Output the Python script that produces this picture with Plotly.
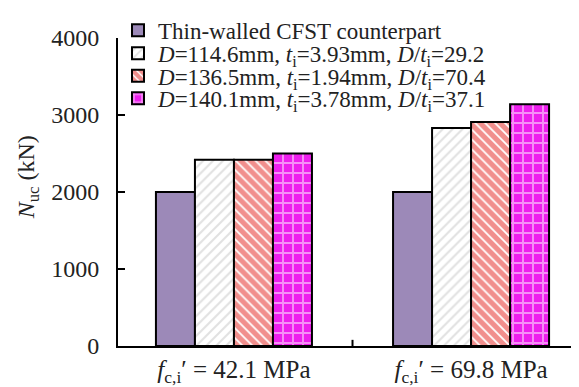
import plotly.graph_objects as go

groups = [1, 2]
group_labels = ["<i>f</i><sub>c,i</sub>′ = 42.1 MPa", "<i>f</i><sub>c,i</sub>′ = 69.8 MPa"]
series_names = [
    "Thin-walled CFST counterpart",
    "<i>D</i>=114.6mm, <i>t</i><sub>i</sub>=3.93mm, <i>D</i>/<i>t</i><sub>i</sub>=29.2",
    "<i>D</i>=136.5mm, <i>t</i><sub>i</sub>=1.94mm, <i>D</i>/<i>t</i><sub>i</sub>=70.4",
    "<i>D</i>=140.1mm, <i>t</i><sub>i</sub>=3.78mm, <i>D</i>/<i>t</i><sub>i</sub>=37.1",
]
thin_walled = [2000, 2000]
d114 = [2420, 2830]
d136 = [2420, 2910]
d140 = [2500, 3140]
y_ticks = [0, 1000, 2000, 3000, 4000]
y_title = "<i>N</i><sub>uc</sub> (kN)"

FONT = "Liberation Serif"
values = [thin_walled, d114, d136, d140]
patterns = [
    dict(shape=""),
    dict(shape="/", fgcolor="#c4c4c4", bgcolor="white", size=7, solidity=0.3),
    dict(shape="\\", fgcolor="#e31f1b", bgcolor="white", size=7, solidity=0.75),
    dict(shape="+", fgcolor="white", bgcolor="#ee1fee", size=10, solidity=0.35),
]
colors = ["#9c89b8", "white", "#e31f1b", "#ee1fee"]
legend_y = [1.025, 0.950, 0.877, 0.804]

fig = go.Figure()
for i, (name, vals) in enumerate(zip(series_names, values)):
    fig.add_trace(go.Bar(
        x=groups, y=vals, name=name, showlegend=True,
        marker=dict(color=colors[i], line=dict(color="black", width=2), pattern=patterns[i]),
        legend="legend" if i == 0 else f"legend{i+1}",
    ))

leg_common = dict(x=0.0, xanchor="left", yanchor="middle", bgcolor="rgba(0,0,0,0)",
                  font=dict(family=FONT, size=23, color="#222"), borderwidth=0)
layout_legends = {}
for i in range(4):
    key = "legend" if i == 0 else f"legend{i+1}"
    layout_legends[key] = dict(leg_common, y=legend_y[i])

fig.update_layout(
    width=571, height=379,
    margin=dict(l=110, r=1, t=22, b=41),
    plot_bgcolor="white", paper_bgcolor="white",
    barmode="group", bargap=0.342, bargroupgap=0,
    showlegend=True,
    font=dict(family=FONT, size=23, color="#222"),
    **layout_legends,
)
# small separator tick between the two groups on the x axis
fig.add_shape(type="line", xref="x", yref="paper", x0=1.5, x1=1.5, y0=0, y1=0.02,
              line=dict(color="black", width=2))
# y-axis title
fig.add_annotation(text=y_title, xref="paper", yref="paper", x=-0.196, y=0.547,
                   textangle=-90, showarrow=False, xanchor="center", yanchor="middle",
                   font=dict(family=FONT, size=24, color="#222"))
fig.update_xaxes(
    range=[0.511, 2.451], tickvals=groups, ticktext=group_labels,
    showline=True, linecolor="black", linewidth=2, ticks="",
    showgrid=False, zeroline=False, automargin=False,
    tickfont=dict(family=FONT, size=25, color="#222"),
)
fig.update_yaxes(
    range=[0, 4000], tickvals=y_ticks,
    showline=True, linecolor="black", linewidth=2,
    ticks="inside", ticklen=7, tickwidth=2, tickcolor="black",
    showgrid=False, zeroline=False, automargin=False,
    tickfont=dict(family=FONT, size=24, color="#222"),
    ticklabelstandoff=12,
)

fig.write_html("out.html")
